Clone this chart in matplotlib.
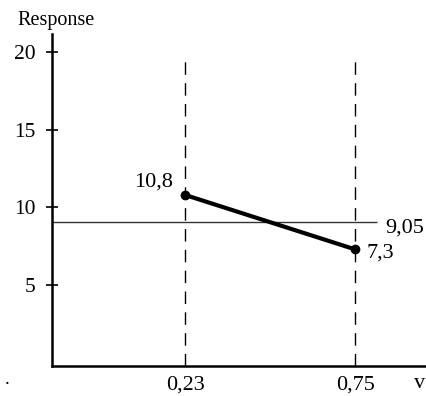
import matplotlib
matplotlib.use('Agg')
import matplotlib.pyplot as plt

plt.rcParams['font.family'] = ['Liberation Serif', 'DejaVu Serif']

levels = [0.23, 0.75]
responses = [10.8, 7.3]
mean_response = 9.05
point_labels = ['10,8', '7,3']
mean_label = '9,05'
x_tick_labels = ['0,23', '0,75']
y_ticks = [5, 10, 15, 20]

fig = plt.figure(figsize=(4.27, 3.96), dpi=100)
ax = fig.add_axes([52 / 427, 30 / 396, 375 / 427, 332 / 396])
ax.set_xlim(-0.177, 0.97)
ax.set_ylim(-0.2, 21.15)

for s in ['top', 'right']:
    ax.spines[s].set_visible(False)
for s in ['left', 'bottom']:
    ax.spines[s].set_linewidth(1.8)

# dashed verticals at the two levels
ax.vlines(levels, -0.2, 19.4, colors='black', linewidth=1.0,
          linestyles=(0, (9, 6)))

# mean line
ax.hlines(mean_response, -0.177, 0.817, colors='#333333', linewidth=1.0)
ax.annotate(mean_label, (0.817, mean_response), xytext=(6, -4),
            textcoords='offset points', fontsize=16, va='center', ha='left')

ax.plot(levels, responses, color='black', linewidth=3, marker='o',
        markersize=6)
ax.annotate(point_labels[0], (levels[0], responses[0]), xytext=(-9, 9),
            textcoords='offset points', fontsize=16, va='center', ha='right')
ax.annotate(point_labels[1], (levels[1], responses[1]), xytext=(8, -3),
            textcoords='offset points', fontsize=16, va='center', ha='left')

ax.set_yticks(y_ticks)
ax.set_yticklabels([str(v) for v in y_ticks], fontsize=15.5)
ax.tick_params(axis='y', direction='inout', length=8, width=1.2, pad=8)
ax.set_xticks(levels)
ax.set_xticklabels(x_tick_labels, fontsize=16)
ax.tick_params(axis='x', length=0, pad=7)

fig.text(17 / 427, 1 - 20 / 396, 'Response', fontsize=14.5, va='center',
         ha='left')
fig.text(414 / 427, 1 - 383 / 396, 'v', fontsize=16, va='center', ha='left')
fig.text(5 / 427, 1 - 380 / 396, '.', fontsize=14, va='center', ha='left')

fig.savefig('out.png', dpi=100)
